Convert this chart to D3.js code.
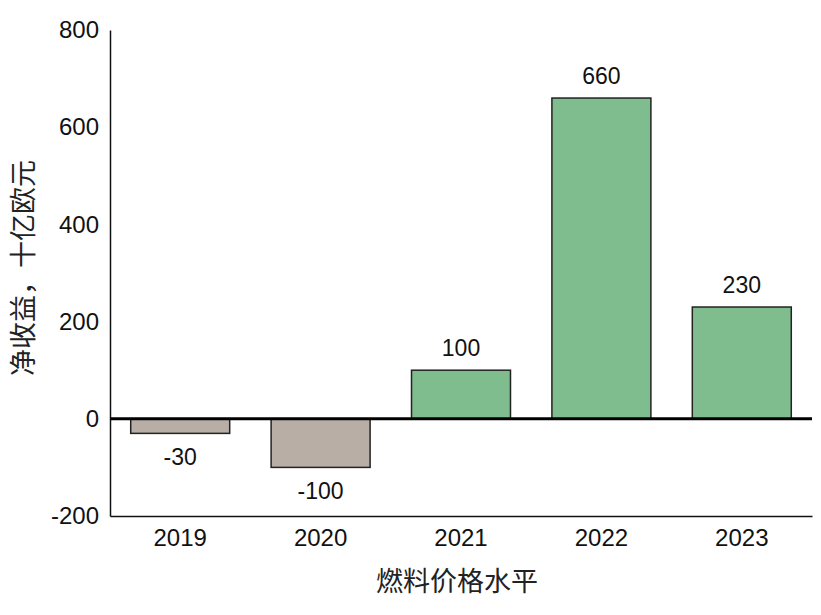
<!DOCTYPE html>
<html>
<head>
<meta charset="utf-8">
<script src="https://cdn.jsdelivr.net/npm/d3@7"></script>
<style>
  body { margin: 0; background: #fff; }
  svg { display: block; }
</style>
</head>
<body>
<div id="chart"></div>
<script>
// données du graphique
const years = ['2019', '2020', '2021', '2022', '2023'];
const values = [-30, -100, 100, 660, 230];
const yTicks = [-200, 0, 200, 400, 600, 800];

const width = 821;
const height = 615;
const plotLeft = 110, plotRight = 812, plotTop = 30, plotBottom = 516;
const numFont = 'Liberation Sans, Arial, sans-serif';
const cjkFont = 'Noto Sans CJK SC, sans-serif';

const svg = d3.select('#chart').append('svg')
    .attr('width', width)
    .attr('height', height);

const x = d3.scaleBand()
    .domain(years)
    .range([plotLeft, plotRight])
    .paddingInner(0.295)
    .paddingOuter(0.1475);

const y = d3.scaleLinear()
    .domain([-200, 800])
    .range([plotBottom, plotTop]);

// barres
svg.selectAll('rect.bar')
    .data(values)
    .enter()
    .append('rect')
    .attr('class', 'bar')
    .attr('x', (d, i) => x(years[i]))
    .attr('y', d => y(Math.max(0, d)))
    .attr('width', x.bandwidth())
    .attr('height', d => Math.abs(y(d) - y(0)))
    .attr('fill', d => d < 0 ? '#b8aea6' : '#7fbd8f')
    .attr('stroke', '#222')
    .attr('stroke-width', 1.5);

// étiquettes de valeur
svg.selectAll('text.val')
    .data(values)
    .enter()
    .append('text')
    .attr('class', 'val')
    .attr('x', (d, i) => x(years[i]) + x.bandwidth() / 2)
    .attr('y', d => d < 0 ? y(d) + 32 : y(d) - 14)
    .attr('text-anchor', 'middle')
    .style('font-family', numFont)
    .style('font-size', '23px')
    .style('fill', '#111')
    .text(d => String(d));

// axe Y
const yAxis = svg.append('g')
    .attr('transform', `translate(${plotLeft},0)`)
    .call(d3.axisLeft(y).tickValues(yTicks).tickFormat(d => String(d)).tickSize(0).tickPadding(11));
yAxis.select('.domain').attr('stroke', '#111').attr('stroke-width', 1.5);
yAxis.selectAll('text')
    .style('font-family', numFont)
    .style('font-size', '24px')
    .style('fill', '#111');

// axe X en bas
const xAxis = svg.append('g')
    .attr('transform', `translate(0,${plotBottom})`)
    .call(d3.axisBottom(x).tickSize(0).tickPadding(13));
xAxis.select('.domain').attr('stroke', '#111').attr('stroke-width', 1.5);
xAxis.selectAll('text')
    .style('font-family', numFont)
    .style('font-size', '24px')
    .style('fill', '#111');

// ligne du zéro
svg.append('line')
    .attr('x1', plotLeft)
    .attr('x2', plotRight)
    .attr('y1', y(0))
    .attr('y2', y(0))
    .attr('stroke', '#000')
    .attr('stroke-width', 3);

// titres des axes
svg.append('text')
    .attr('x', 457)
    .attr('y', 591)
    .attr('text-anchor', 'middle')
    .style('font-family', cjkFont)
    .style('font-size', '27px')
    .style('fill', '#222')
    .text('燃料价格水平');

svg.append('text')
    .attr('transform', 'translate(33,268) rotate(-90)')
    .attr('text-anchor', 'middle')
    .style('font-family', cjkFont)
    .style('font-size', '27px')
    .style('fill', '#222')
    .text('净收益，十亿欧元');
</script>
</body>
</html>
